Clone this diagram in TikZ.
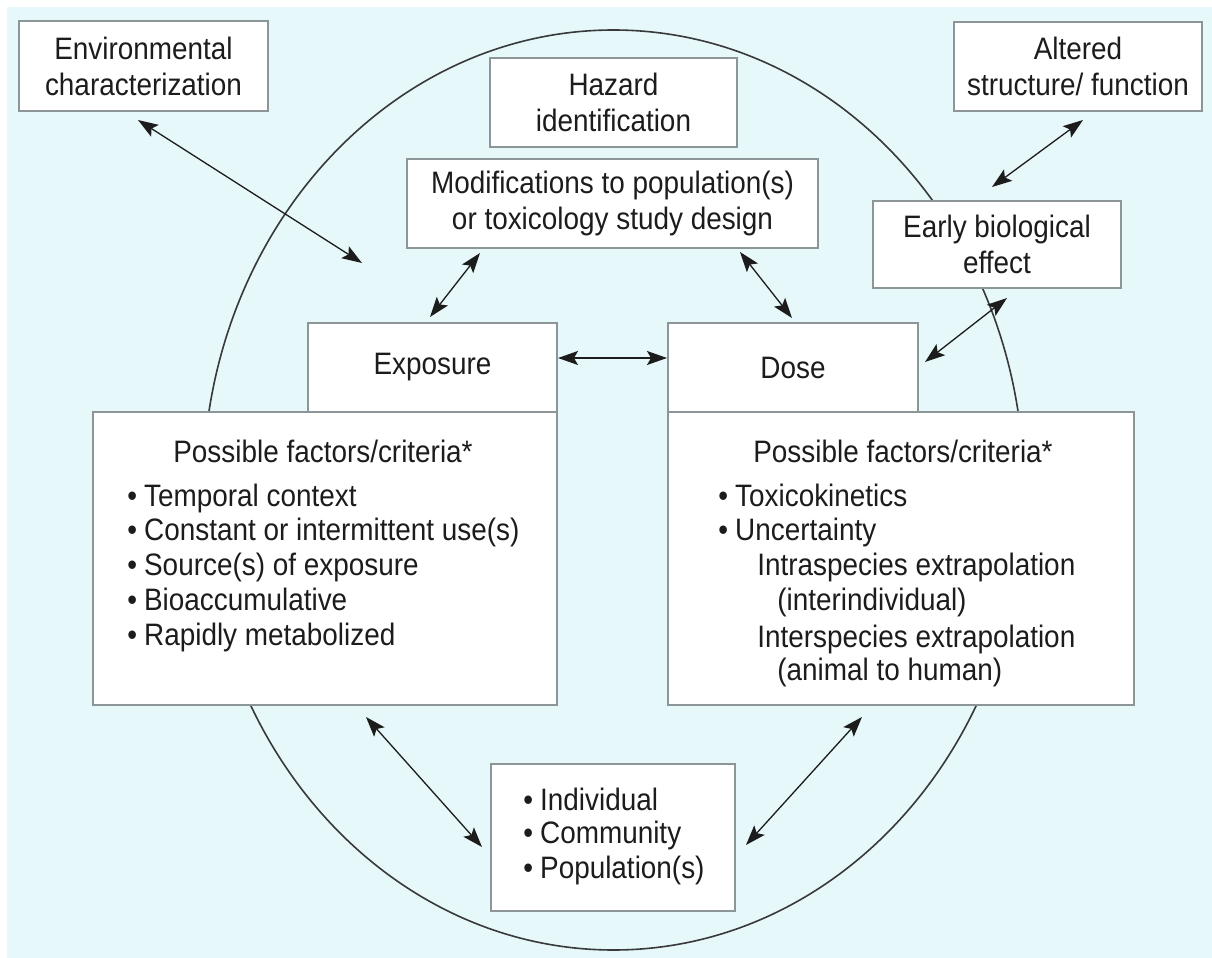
\documentclass[tikz,border=0pt]{standalone}
\usepackage{fontspec}
\setmainfont{Liberation Sans}[FakeStretch=0.9]
\usetikzlibrary{arrows.meta}
\definecolor{bgcyan}{RGB}{230,248,249}
\definecolor{boxline}{RGB}{140,150,152}
\definecolor{ink}{RGB}{28,28,28}
\definecolor{ringcol}{RGB}{55,57,59}
\newcommand\bul{\textbullet\hspace{3.5pt}}
\begin{document}
\begin{tikzpicture}[x=0.5pt,y=-0.5pt,
  box/.style={draw=boxline, fill=white, line width=0.6pt, inner sep=0pt, align=center, text=ink, font=\fontsize{15.5}{18}\selectfont},
  txt/.style={inner sep=0pt, anchor=base west, text=ink, font=\fontsize{15.5}{18}\selectfont},
  ctxt/.style={inner sep=0pt, anchor=base, text=ink, font=\fontsize{15.5}{18}\selectfont},
  link/.style={{Stealth[length=10pt,width=7pt,inset=2pt]}-{Stealth[length=10pt,width=7pt,inset=2pt]}, line width=0.65pt, draw=ink}
]
\useasboundingbox (0,0) rectangle (1212,958);
\fill[white] (0,0) rectangle (1212,958);
\fill[bgcyan] (7,7) rectangle (1212,958);
\draw[ringcol, line width=0.8pt] (613.5,490) ellipse [x radius=205.25pt, y radius=230pt];

% boxes
\node[box, minimum width=124.5pt, minimum height=45pt] (env) at (143.5,66) {Environmental\\characterization};
\node[box, minimum width=124pt, minimum height=44.5pt] (alt) at (1078,66.5) {Altered\\structure/ function};
\node[box, minimum width=123.5pt, minimum height=44.5pt] (haz) at (613.5,102.5) {Hazard\\identification};
\node[box, minimum width=205.5pt, minimum height=44.5pt] (mod) at (612.5,203.5) {Modifications to population(s)\\or toxicology study design};
\node[box, minimum width=124pt, minimum height=43.5pt] (early) at (997,244.5) {Early biological\\effect};
\node[box, minimum width=124.5pt, minimum height=44.5pt] (exp) at (432.5,367.5) {Exposure};
\node[box, minimum width=125pt, minimum height=44.5pt] (dose) at (793,367.5) {Dose};
\node[box, minimum width=232pt, minimum height=146.5pt] (lfac) at (325,558.5) {};
\node[box, minimum width=233pt, minimum height=146.5pt] (rfac) at (901,558.5) {};
\node[box, minimum width=122pt, minimum height=73.5pt] (pop) at (613,837.5) {};

% left factors text
\node[ctxt] (lft) at (323,462) {Possible factors/criteria*};
\node[txt] (lf1) at (127,506) {\bul Temporal context};
\node[txt] (lf2) at (127,540) {\bul Constant or intermittent use(s)};
\node[txt] (lf3) at (127,575) {\bul Source(s) of exposure};
\node[txt] (lf4) at (127,610) {\bul Bioaccumulative};
\node[txt] (lf5) at (127,645) {\bul Rapidly metabolized};

% right factors text
\node[ctxt] (rft) at (903,462) {Possible factors/criteria*};
\node[txt] (rf1) at (718,506) {\bul Toxicokinetics};
\node[txt] (rf2) at (718,540) {\bul Uncertainty};
\node[txt] (rf3) at (757,575) {Intraspecies extrapolation};
\node[txt] (rf4) at (777,610) {(interindividual)};
\node[txt] (rf5) at (757,647) {Interspecies extrapolation};
\node[txt] (rf6) at (777,680) {(animal to human)};

% population text
\node[txt] (p1) at (523,810) {\bul Individual};
\node[txt] (p2) at (523,843) {\bul Community};
\node[txt] (p3) at (523,878) {\bul Population(s)};

% connector ends
\coordinate (envA) at (138,120);   \coordinate (envB) at (362,263);
\coordinate (altA) at (1083,120);  \coordinate (altB) at (992,187);
\coordinate (earA) at (1007,298);  \coordinate (earB) at (925,362);
\coordinate (mdeA) at (480,253);   \coordinate (mdeB) at (430,317);
\coordinate (mddA) at (740,252);   \coordinate (mddB) at (792,318);
\coordinate (edA) at (558,358);    \coordinate (edB) at (667,358);
\coordinate (lpA) at (366,717);    \coordinate (lpB) at (482,847);
\coordinate (rpA) at (862,717);    \coordinate (rpB) at (746,845);

\draw[link] (envA) -- (envB);
\draw[link] (altA) -- (altB);
\draw[link] (earA) -- (earB);
\draw[link] (mdeA) -- (mdeB);
\draw[link] (mddA) -- (mddB);
\draw[link] (edA) -- (edB);
\draw[link] (lpA) -- (lpB);
\draw[link] (rpA) -- (rpB);
\end{tikzpicture}
\end{document}
